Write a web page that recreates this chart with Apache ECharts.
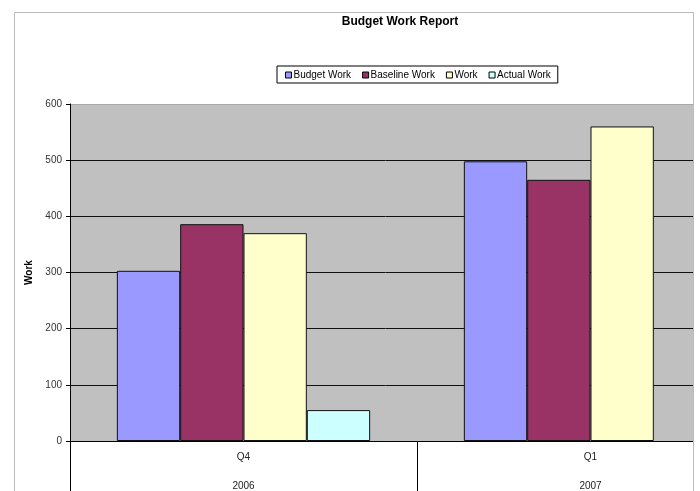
<!DOCTYPE html>
<html>
<head>
<meta charset="utf-8">
<script src="https://cdn.jsdelivr.net/npm/echarts@6/dist/echarts.min.js"></script>
<style>
  html, body { margin: 0; padding: 0; background: #fff; }
  #main { width: 700px; height: 491px; }
</style>
</head>
<body>
<div id="main"></div>
<script>
// data
const quarters = ['Q4', 'Q1'];
const years = ['2006', '2007'];
const budgetWork = [303, 498];
const baselineWork = [386, 465];
const work = [370, 560];
const actualWork = [55, null];

const chart = echarts.init(document.getElementById('main'), null, { renderer: 'canvas' });

function bar(name, data, color) {
    return {
        name: name,
        type: 'bar',
        data: data,
        barGap: 0,
        barCategoryGap: '27%',
        itemStyle: { color: color, borderColor: '#111', borderWidth: 1 }
    };
}

const option = {
    animation: false,
    textStyle: { fontFamily: 'Liberation Sans, Arial, sans-serif' },
    title: {
        text: 'Budget Work Report',
        left: 395,
        top: 11,
        textAlign: 'center',
        textStyle: { fontSize: 12, fontWeight: 'bold', color: '#000' }
    },
    legend: {
        left: 277,
        top: 66,
        padding: [4, 7, 3, 8],
        borderColor: '#000',
        borderWidth: 1,
        itemWidth: 6,
        itemHeight: 6,
        itemGap: 11,
        icon: 'rect',
        textStyle: { fontSize: 10, color: '#000', padding: [0, 0, 0, -3] },
        itemStyle: { borderColor: '#000', borderWidth: 1 }
    },
    grid: {
        left: 70,
        top: 104,
        width: 694,
        height: 337,
        outerBoundsMode: 'none',
        containLabel: false,
        show: true,
        backgroundColor: '#c0c0c0',
        borderWidth: 0
    },
    xAxis: {
        type: 'category',
        data: quarters,
        axisLine: { lineStyle: { color: '#000', width: 1 } },
        axisTick: { show: true, alignWithLabel: false, length: 52, lineStyle: { color: '#000' } },
        axisLabel: {
            margin: 2,
            fontSize: 10,
            color: '#222',
            lineHeight: 29,
            formatter: function (v, i) { return v + '\n' + years[i]; }
        }
    },
    yAxis: {
        type: 'value',
        min: 0,
        max: 600,
        interval: 100,
        name: 'Work',
        nameLocation: 'middle',
        nameGap: 34,
        nameTextStyle: { fontSize: 10, fontWeight: 'bold', color: '#000' },
        axisLine: { show: true, lineStyle: { color: '#000' } },
        axisTick: { show: true, length: 4, lineStyle: { color: '#000' } },
        axisLabel: { fontSize: 10, color: '#333', margin: 8 },
        splitLine: { lineStyle: { color: ['#111', '#111', '#111', '#111', '#111', '#111', '#a8a8a8'], width: 1 } }
    },
    series: [
        bar('Budget Work', budgetWork, '#9999ff'),
        bar('Baseline Work', baselineWork, '#993366'),
        bar('Work', work, '#ffffcc'),
        bar('Actual Work', actualWork, '#ccffff')
    ],
    graphic: [
        { type: 'rect', z: 100, shape: { x: 694, y: 0, width: 10, height: 491 }, style: { fill: '#fff' } },
        { type: 'line', z: 101, shape: { x1: 14.5, y1: 12.5, x2: 693.5, y2: 12.5 }, style: { stroke: '#bbb', lineWidth: 1 } },
        { type: 'line', z: 101, shape: { x1: 14.5, y1: 12.5, x2: 14.5, y2: 491 }, style: { stroke: '#bbb', lineWidth: 1 } },
        { type: 'line', z: 101, shape: { x1: 693.5, y1: 12.5, x2: 693.5, y2: 491 }, style: { stroke: '#bbb', lineWidth: 1 } }
    ]
};

chart.setOption(option);
</script>
</body>
</html>
